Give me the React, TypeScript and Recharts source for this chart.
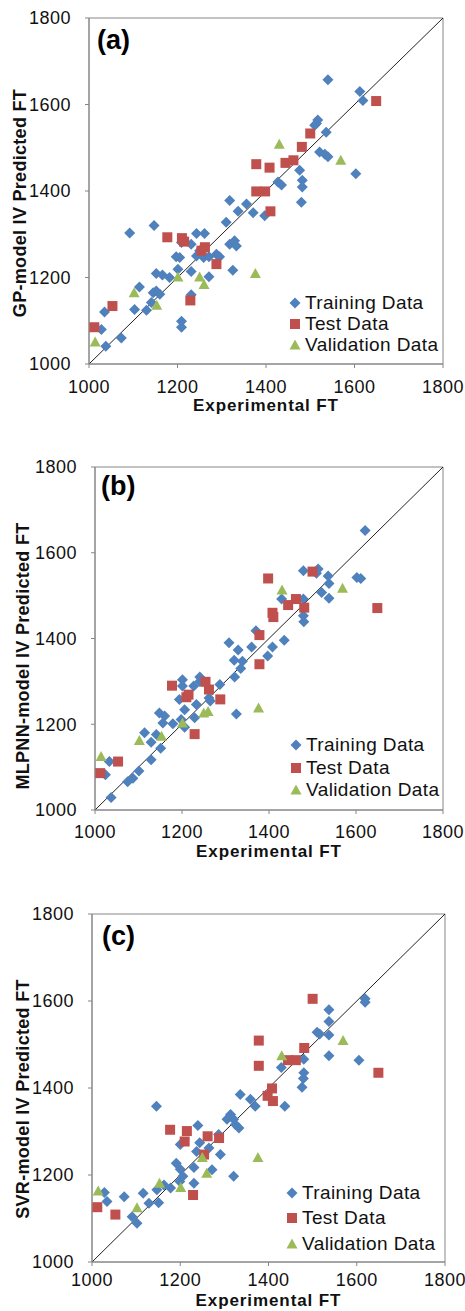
import React from 'react';
import { ScatterChart, Scatter, XAxis, YAxis, ReferenceLine, ReferenceArea, Legend } from 'recharts';

const axisTicks = [1000, 1200, 1400, 1600, 1800];

// experimental values shared by the test / validation sets
const testX = [1012, 1053, 1177, 1210, 1215, 1229, 1254, 1262, 1288, 1378, 1378, 1398, 1408, 1410, 1444, 1462, 1481, 1500, 1649];
const validX = [1014, 1102, 1153, 1201, 1250, 1260, 1376, 1430, 1569];

// (a) GP-model IV
const trainAX = [1028, 1035, 1038, 1073, 1092, 1103, 1114, 1130, 1141, 1145, 1147, 1152, 1152, 1160, 1166, 1182, 1197, 1201, 1205, 1209, 1209, 1209, 1231, 1231, 1231, 1243, 1243, 1250, 1254, 1259, 1261, 1271, 1271, 1288, 1295, 1310, 1318, 1318, 1325, 1329, 1333, 1337, 1356, 1371, 1397, 1427, 1435, 1476, 1480, 1482, 1482, 1510, 1514, 1517, 1521, 1533, 1536, 1540, 1540, 1603, 1612, 1619];
const trainAY = [1080, 1120, 1041, 1060, 1303, 1126, 1178, 1124, 1142, 1165, 1320, 1169, 1209, 1161, 1206, 1200, 1248, 1219, 1246, 1281, 1099, 1085, 1277, 1214, 1160, 1302, 1250, 1262, 1256, 1246, 1302, 1248, 1202, 1254, 1248, 1328, 1378, 1277, 1217, 1285, 1273, 1353, 1370, 1350, 1343, 1421, 1414, 1448, 1374, 1425, 1409, 1552, 1556, 1564, 1490, 1485, 1536, 1479, 1657, 1440, 1630, 1609];
const testAY = [1085, 1134, 1293, 1291, 1283, 1147, 1262, 1270, 1231, 1462, 1399, 1399, 1454, 1353, 1465, 1471, 1502, 1533, 1608];
const validAY = [1051, 1165, 1136, 1201, 1201, 1184, 1209, 1508, 1471];

// (b) MLPNN-model IV
const trainBX = [1024, 1033, 1037, 1075, 1087, 1101, 1114, 1129, 1129, 1141, 1148, 1151, 1156, 1160, 1179, 1194, 1198, 1201, 1201, 1206, 1206, 1227, 1229, 1233, 1241, 1241, 1262, 1265, 1287, 1308, 1320, 1321, 1325, 1329, 1335, 1339, 1360, 1370, 1397, 1408, 1429, 1435, 1479, 1479, 1479, 1480, 1509, 1513, 1521, 1536, 1538, 1538, 1602, 1611, 1621];
const trainBY = [1082, 1113, 1029, 1066, 1074, 1091, 1180, 1158, 1117, 1176, 1226, 1144, 1203, 1219, 1201, 1258, 1211, 1304, 1289, 1234, 1193, 1289, 1215, 1246, 1310, 1300, 1261, 1254, 1293, 1390, 1349, 1310, 1224, 1373, 1330, 1347, 1380, 1418, 1359, 1380, 1492, 1396, 1558, 1492, 1453, 1439, 1552, 1562, 1507, 1546, 1528, 1494, 1542, 1540, 1652];
const testBY = [1086, 1113, 1290, 1263, 1269, 1177, 1299, 1281, 1258, 1408, 1340, 1540, 1460, 1450, 1478, 1492, 1472, 1556, 1471];
const validBY = [1125, 1162, 1172, 1203, 1226, 1230, 1238, 1513, 1517];

// (c) SVR-model IV
const trainCX = [1028, 1034, 1073, 1091, 1102, 1116, 1129, 1146, 1147, 1151, 1163, 1178, 1191, 1199, 1200, 1200, 1206, 1231, 1231, 1237, 1240, 1244, 1265, 1272, 1287, 1291, 1306, 1314, 1321, 1321, 1325, 1333, 1336, 1359, 1370, 1429, 1437, 1476, 1479, 1480, 1480, 1510, 1516, 1537, 1537, 1537, 1537, 1605, 1619, 1619];
const trainCY = [1160, 1139, 1150, 1104, 1089, 1158, 1135, 1358, 1166, 1136, 1177, 1170, 1227, 1185, 1270, 1213, 1197, 1217, 1181, 1254, 1314, 1274, 1262, 1212, 1293, 1247, 1328, 1339, 1328, 1197, 1316, 1308, 1385, 1374, 1358, 1447, 1358, 1402, 1422, 1435, 1466, 1528, 1524, 1580, 1553, 1522, 1474, 1464, 1605, 1597];
const testCY = [1126, 1109, 1304, 1277, 1301, 1154, 1247, 1289, 1285, 1509, 1451, 1382, 1399, 1370, 1464, 1464, 1492, 1605, 1435];
const validCY = [1163, 1125, 1181, 1171, 1240, 1204, 1240, 1474, 1509];

const legendOrder = ['Training Data', 'Test Data', 'Validation Data'];

const FONT = '"Liberation Sans", Arial, sans-serif';
const BLUE = '#4F81BD';
const RED = '#C0504D';
const GREEN = '#9BBB59';
const AXIS = '#868686';

const zip = (xs: number[], ys: number[]) => xs.map((x, i) => ({ x, y: ys[i] }));

const Diamond = ({ cx, cy }: any) => (
  <polygon points={`${cx},${cy - 5.5} ${cx + 5.5},${cy} ${cx},${cy + 5.5} ${cx - 5.5},${cy}`} fill={BLUE} />
);
const Square = ({ cx, cy }: any) => <rect x={cx - 5} y={cy - 5} width={10} height={10} fill={RED} />;
const Triangle = ({ cx, cy }: any) => (
  <polygon points={`${cx},${cy - 5.5} ${cx + 5.5},${cy + 4.5} ${cx - 5.5},${cy + 4.5}`} fill={GREEN} />
);

const legendIcon = (type: string) => {
  if (type === 'square') return <Square cx={6} cy={6} />;
  if (type === 'triangle') return <Triangle cx={6} cy={6} />;
  return <Diamond cx={6} cy={6} />;
};

const makeLegend = (rowH: number) => (props: any) => {
  const items = [...(props.payload || [])].sort(
    (a: any, b: any) => legendOrder.indexOf(a.value) - legendOrder.indexOf(b.value)
  );
  return (
    <ul style={{ listStyle: 'none', margin: 0, padding: 0, fontFamily: FONT, fontSize: 19, color: '#111', whiteSpace: 'nowrap', letterSpacing: 0.4 }}>
      {items.map((e: any) => (
        <li key={e.value} style={{ height: rowH, display: 'flex', alignItems: 'center' }}>
          <svg width={12} height={12} style={{ marginRight: 4 }}>{legendIcon(e.type)}</svg>
          <span>{e.value}</span>
        </li>
      ))}
    </ul>
  );
};

interface PanelProps {
  tag: string;
  yTitle: string;
  top: number;
  height: number;
  marginTop: number;
  marginBottom: number;
  marginRight: number;
  yAxisW: number;
  xAxisH: number;
  xTickMargin: number;
  xTitleY: number;
  yTitleX: number;
  yTitleY: number;
  tagX: number;
  tagY: number;
  legendLeft: number;
  legendTop: number;
  legendRowH: number;
  train: { x: number; y: number }[];
  test: { x: number; y: number }[];
  valid: { x: number; y: number }[];
}

const Panel: React.FC<PanelProps> = (p) => {
  const tickStyle = { fill: '#111', fontSize: 18, fontFamily: FONT, letterSpacing: 0.5 };
  const titleStyle = { fill: '#111', fontSize: 17, fontFamily: FONT, fontWeight: 700, letterSpacing: 0.9 };
  return (
    <div style={{ position: 'absolute', left: 0, top: p.top }}>
      <ScatterChart
        width={465}
        height={p.height}
        margin={{ top: p.marginTop, right: p.marginRight, bottom: p.marginBottom, left: 0 }}
      >
        <XAxis
          type="number"
          dataKey="x"
          domain={[1000, 1800]}
          ticks={axisTicks}
          interval={0}
          height={p.xAxisH}
          tickSize={4}
          tickMargin={p.xTickMargin}
          stroke={AXIS}
          tick={tickStyle}
          label={{
            value: 'Experimental FT',
            content: (lp: any) => (
              <text x={lp.viewBox.x + lp.viewBox.width / 2} y={p.xTitleY} textAnchor="middle" style={titleStyle}>
                Experimental FT
              </text>
            ),
          }}
        />
        <YAxis
          type="number"
          dataKey="y"
          domain={[1000, 1800]}
          ticks={axisTicks}
          interval={0}
          width={p.yAxisW}
          tickSize={4}
          tickMargin={14}
          stroke={AXIS}
          tick={tickStyle}
          label={{
            value: p.yTitle,
            content: () => (
              <text
                x={p.yTitleX}
                y={p.yTitleY}
                transform={`rotate(-90 ${p.yTitleX} ${p.yTitleY})`}
                textAnchor="middle"
                dominantBaseline="central"
                style={{ ...titleStyle, fontSize: 18, letterSpacing: 0.3 }}
              >
                {p.yTitle}
              </text>
            ),
          }}
        />
        <ReferenceArea
          x1={1000}
          x2={1800}
          y1={1000}
          y2={1800}
          fill="none"
          stroke={AXIS}
          strokeWidth={1}
          label={{
            value: p.tag,
            content: () => (
              <text x={p.tagX} y={p.tagY} style={{ fill: '#000', fontSize: 27, fontWeight: 700, fontFamily: FONT }}>
                {p.tag}
              </text>
            ),
          }}
        />
        <ReferenceLine
          segment={[{ x: 1000, y: 1000 }, { x: 1800, y: 1800 }]}
          stroke="#222"
          strokeWidth={1}
        />
        <Scatter name="Training Data" data={p.train} shape={Diamond} legendType="diamond" fill={BLUE} isAnimationActive={false} />
        <Scatter name="Test Data" data={p.test} shape={Square} legendType="square" fill={RED} isAnimationActive={false} />
        <Scatter name="Validation Data" data={p.valid} shape={Triangle} legendType="triangle" fill={GREEN} isAnimationActive={false} />
        <Legend
          layout="vertical"
          align="center"
          verticalAlign="middle"
          content={makeLegend(p.legendRowH)}
          wrapperStyle={{ left: p.legendLeft, top: p.legendTop, width: 'auto' }}
        />
      </ScatterChart>
    </div>
  );
};

export default function App() {
  return (
    <div style={{ position: 'absolute', left: 0, top: 0, width: 465, height: 1311, background: '#fff', overflow: 'hidden' }}>
      <Panel
        tag="(a)"
        yTitle="GP-model IV Predicted FT"
        top={0}
        height={430}
        marginTop={18}
        marginBottom={16}
        marginRight={22}
        yAxisW={89}
        xAxisH={50}
        xTickMargin={12}
        xTitleY={411}
        yTitleX={20}
        yTitleY={203}
        tagX={97}
        tagY={49}
        legendLeft={289}
        legendTop={292}
        legendRowH={21}
        train={zip(trainAX, trainAY)}
        test={zip(testX, testAY)}
        valid={zip(validX, validAY)}
      />
      <Panel
        tag="(b)"
        yTitle="MLPNN-model IV Predicted FT"
        top={430}
        height={440}
        marginTop={37}
        marginBottom={10}
        marginRight={22}
        yAxisW={95}
        xAxisH={50}
        xTickMargin={11}
        xTitleY={427}
        yTitleX={23}
        yTitleY={226}
        tagX={101}
        tagY={65}
        legendLeft={290}
        legendTop={304}
        legendRowH={22.5}
        train={zip(trainBX, trainBY)}
        test={zip(testX, testBY)}
        valid={zip(validX, validBY)}
      />
      <Panel
        tag="(c)"
        yTitle="SVR-model IV Predicted FT"
        top={870}
        height={441}
        marginTop={44}
        marginBottom={4}
        marginRight={20}
        yAxisW={92}
        xAxisH={45}
        xTickMargin={7}
        xTitleY={436}
        yTitleX={23}
        yTitleY={229}
        tagX={102}
        tagY={75}
        legendLeft={286}
        legendTop={310}
        legendRowH={25.5}
        train={zip(trainCX, trainCY)}
        test={zip(testX, testCY)}
        valid={zip(validX, validCY)}
      />
    </div>
  );
}
